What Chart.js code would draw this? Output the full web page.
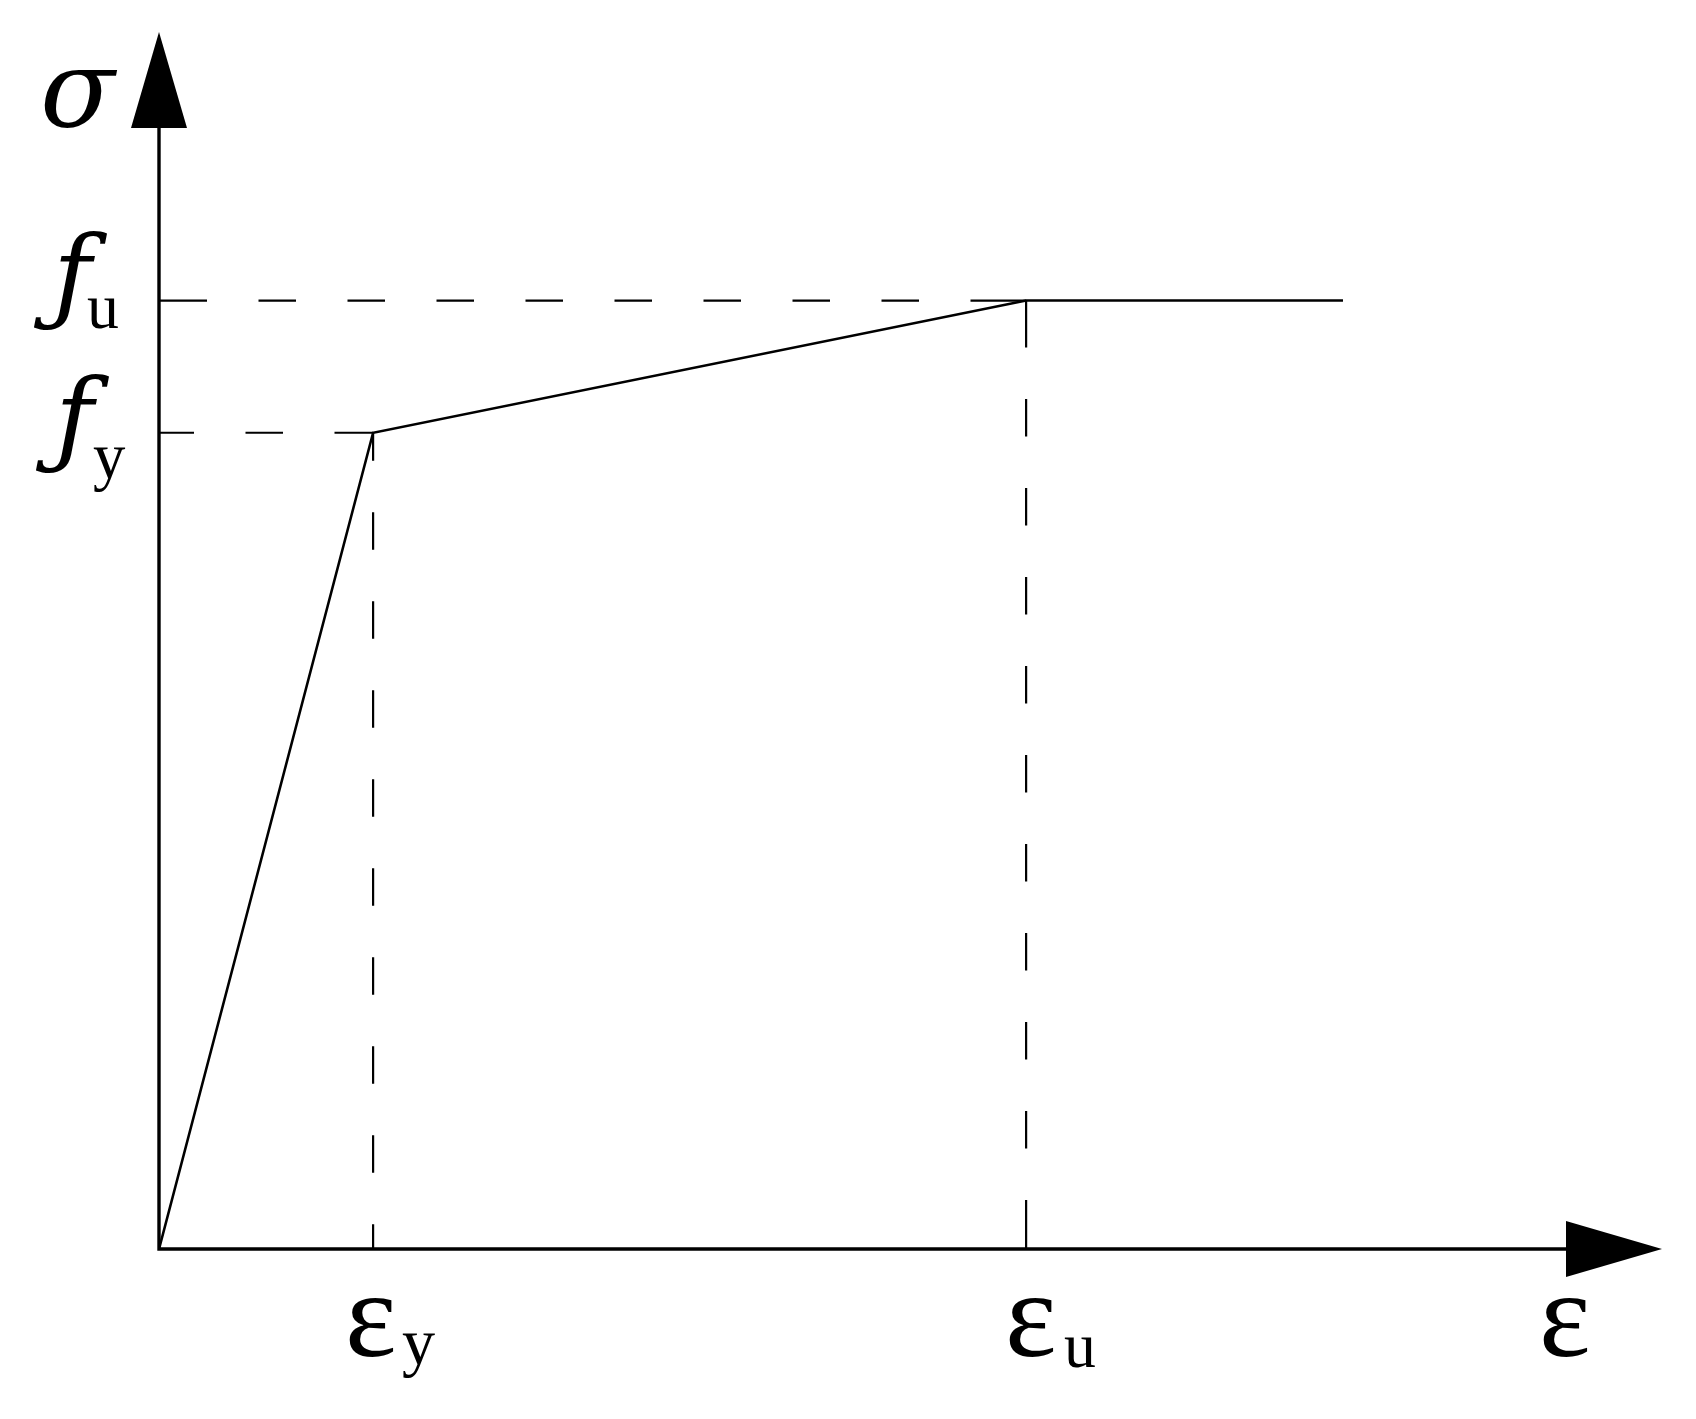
<!DOCTYPE html>
<html>
<head>
<meta charset="utf-8">
<script src="https://cdn.jsdelivr.net/npm/chart.js@4.4.1/dist/chart.umd.min.js"></script>
<style>
  html, body { margin: 0; padding: 0; background: #ffffff; }
  #wrap { width: 1696px; height: 1419px; position: relative; }
</style>
</head>
<body>
<div id="wrap"><canvas id="c"></canvas></div>
<script>
// ---- data ----
const strainPoints = [0, 1, 4.05, 5.53];        // 0, εy, εu, end of plateau
const stressPoints = [0, 1, 1.162, 1.162];      // 0, fy, fu, fu
const axisLimits = [7.02, 1.491];               // x max (ε arrow tip), y max (σ arrow tip)
const xTickMain = ['ε', 'ε'];
const xTickSub = ['y', 'u'];
const yTickMain = ['ƒ', 'ƒ'];
const yTickSub = ['y', 'u'];
const axisTitleX = 'ε';
const axisTitleY = 'σ';

const epsY = strainPoints[1], epsU = strainPoints[2];
const fy = stressPoints[1], fu = stressPoints[2];

// CAD-like dash pattern: custom first dash, then regular dash/gap, last dash runs to end
const DASH = 37.5, GAP = 51.5;
function cadDash(first, n) {
  const arr = [first, GAP];
  for (let i = 0; i < n; i++) arr.push(DASH, GAP);
  arr.push(3000, 0);
  return arr;
}

const lineStyle = { borderColor: '#000', pointRadius: 0, showLine: true, tension: 0, fill: false };

const datasets = [
  Object.assign({ data: strainPoints.map((x, i) => ({ x, y: stressPoints[i] })), borderWidth: 2.6 }, lineStyle),
  Object.assign({ data: [{ x: 0, y: fy }, { x: epsY, y: fy }], borderWidth: 2.2, borderDash: cadDash(35, 1) }, lineStyle),
  Object.assign({ data: [{ x: 0, y: fu }, { x: epsU, y: fu }], borderWidth: 2.2, borderDash: cadDash(48, 8) }, lineStyle),
  Object.assign({ data: [{ x: epsY, y: fy }, { x: epsY, y: 0 }], borderWidth: 2.2, borderDash: cadDash(28, 8) }, lineStyle),
  Object.assign({ data: [{ x: epsU, y: fu }, { x: epsU, y: 0 }], borderWidth: 2.2, borderDash: cadDash(47, 9) }, lineStyle),
];

// draw text so that its ink box has the given left edge, bottom edge and height
function drawFit(ctx, text, style, family, left, bottom, inkH) {
  ctx.font = style + ' 100px ' + family;
  let m = ctx.measureText(text);
  const h100 = m.actualBoundingBoxAscent + m.actualBoundingBoxDescent;
  const size = 100 * inkH / h100;
  ctx.font = style + ' ' + size.toFixed(1) + 'px ' + family;
  m = ctx.measureText(text);
  ctx.fillText(text, left + m.actualBoundingBoxLeft, bottom - m.actualBoundingBoxDescent);
}

const axesPlugin = {
  id: 'axesAndLabels',
  afterDatasetsDraw(chart, args, opts) {
    const { ctx, scales } = chart;
    const xs = scales.x, ys = scales.y;
    const ox = xs.getPixelForValue(0), oy = ys.getPixelForValue(0);
    const tipX = xs.getPixelForValue(axisLimits[0]);
    const tipY = ys.getPixelForValue(axisLimits[1]);
    const AL = opts.arrowLen, AW = opts.arrowHalf;
    ctx.save();
    ctx.strokeStyle = '#000';
    ctx.fillStyle = '#000';
    ctx.lineWidth = 3.4;
    ctx.lineCap = 'butt';
    // axes
    ctx.beginPath();
    ctx.moveTo(ox, oy + 1.7); ctx.lineTo(ox, tipY + AL);
    ctx.moveTo(ox - 1.7, oy); ctx.lineTo(tipX - AL, oy);
    ctx.stroke();
    // arrow heads
    ctx.beginPath();
    ctx.moveTo(tipX, oy); ctx.lineTo(tipX - AL, oy - AW); ctx.lineTo(tipX - AL, oy + AW); ctx.closePath();
    ctx.fill();
    ctx.beginPath();
    ctx.moveTo(ox, tipY); ctx.lineTo(ox - AW, tipY + AL); ctx.lineTo(ox + AW, tipY + AL); ctx.closePath();
    ctx.fill();

    const serif = '"Liberation Serif", "Times New Roman", serif';
    const dvSerif = '"DejaVu Serif", serif';

    // axis titles
    drawFit(ctx, axisTitleY, 'italic', dvSerif, ox - 117, tipY + 96, 58);
    drawFit(ctx, axisTitleX, 'normal', serif, tipX - 119, oy + 108, 59);

    // y tick labels
    const yVals = [fy, fu];
    const fLeft = [-124, -126], fBottom = [40, 29], sLeft = [-66, -72], sBottom = [59, 28], sH = [44, 30];
    yVals.forEach((v, i) => {
      const py = ys.getPixelForValue(v);
      drawFit(ctx, yTickMain[i], 'italic', dvSerif, ox + fLeft[i], py + fBottom[i], 98);
      drawFit(ctx, yTickSub[i], 'normal', serif, ox + sLeft[i], py + sBottom[i], sH[i]);
    });
    // x tick labels
    const xVals = [epsY, epsU];
    const eLeft = [-24, -17], subLeft = [29, 38], subBottom = [129, 119], subH = [45, 30];
    xVals.forEach((v, i) => {
      const px = xs.getPixelForValue(v);
      drawFit(ctx, xTickMain[i], 'normal', serif, px + eLeft[i], oy + 108, 59);
      drawFit(ctx, xTickSub[i], 'normal', serif, px + subLeft[i], oy + subBottom[i], subH[i]);
    });
    ctx.restore();
  }
};

new Chart(document.getElementById('c'), {
  type: 'scatter',
  data: { datasets },
  options: {
    responsive: true,
    maintainAspectRatio: false,
    animation: false,
    events: [],
    layout: { padding: { left: 159, right: 34, top: 32, bottom: 170 } },
    scales: {
      x: { type: 'linear', min: 0, max: axisLimits[0], display: false },
      y: { type: 'linear', min: 0, max: axisLimits[1], display: false }
    },
    plugins: {
      legend: { display: false },
      tooltip: { enabled: false },
      axesAndLabels: { arrowLen: 96, arrowHalf: 28 }
    }
  },
  plugins: [axesPlugin]
});
</script>
</body>
</html>
